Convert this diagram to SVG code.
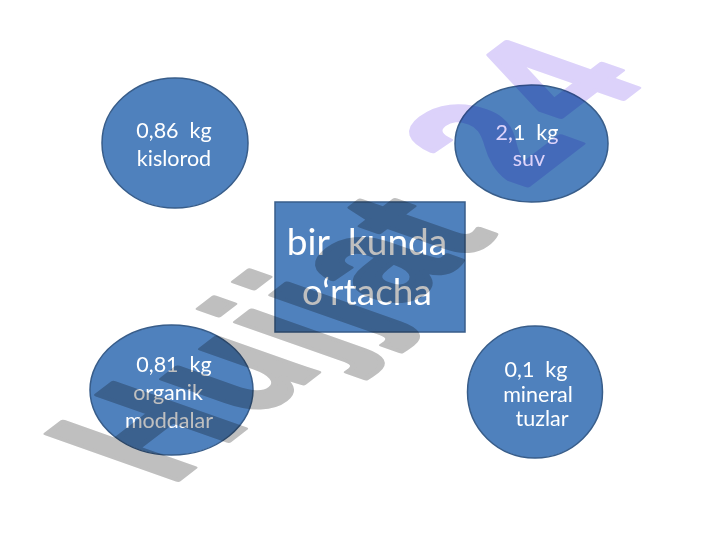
<svg xmlns="http://www.w3.org/2000/svg" width="720" height="540" viewBox="0 0 720 540">
<style>
.node{fill:#4f81bd;stroke:#385d8a;stroke-width:1.5}
.lbl{font-family:Lato,"Liberation Sans",sans-serif;fill:#ffffff;text-anchor:middle;white-space:pre}
.s{font-size:21.5px}
.b{font-size:37px}
.wm{font-family:"Liberation Sans",Arial,sans-serif;font-weight:bold;font-size:100px;mix-blend-mode:multiply;stroke-linejoin:round;stroke-width:3}
</style>
<rect width="720" height="540" fill="#ffffff"/>
<g id="connectors"/>
<g id="kislorod">
<ellipse class="node" cx="175" cy="143" rx="73" ry="65"/>
<text class="lbl s" x="174" y="138" xml:space="preserve">0,86  kg</text>
<text class="lbl s" x="174" y="166">kislorod</text>
</g>
<g id="suv">
<ellipse class="node" cx="531.5" cy="143.5" rx="76.5" ry="58.5"/>
<text class="lbl s" x="527" y="140" xml:space="preserve">2,1  kg</text>
<text class="lbl s" x="529" y="166">suv</text>
</g>
<g id="organik">
<ellipse class="node" cx="171.5" cy="390" rx="81.5" ry="65"/>
<text class="lbl s" x="174" y="372" xml:space="preserve">0,81  kg</text>
<text class="lbl s" x="168" y="400">organik</text>
<text class="lbl s" x="169" y="428">moddalar</text>
</g>
<g id="mineral">
<ellipse class="node" cx="535" cy="392" rx="67.5" ry="66"/>
<text class="lbl s" x="536" y="377" xml:space="preserve">0,1  kg</text>
<text class="lbl s" x="538" y="402">mineral</text>
<text class="lbl s" x="542" y="426">tuzlar</text>
</g>
<g id="center">
<rect class="node" x="275" y="202" width="190" height="130"/>
<text class="lbl b" x="367" y="255" xml:space="preserve">bir  kunda</text>
<text class="lbl b" x="367" y="305">o‘rtacha</text>
</g>
<g id="watermark">
<text class="wm" transform="matrix(1.14,-0.877,1.90,0.67,170,486)" x="0" y="0"><tspan fill="#bfbfbf" stroke="#bfbfbf" dx="0 3 3 3 3 -2">Hujjat</tspan><tspan fill="#dcd2fa" stroke="#dcd2fa" dx="42 9" dy="-12 -6">24</tspan></text>
</g>
</svg>
